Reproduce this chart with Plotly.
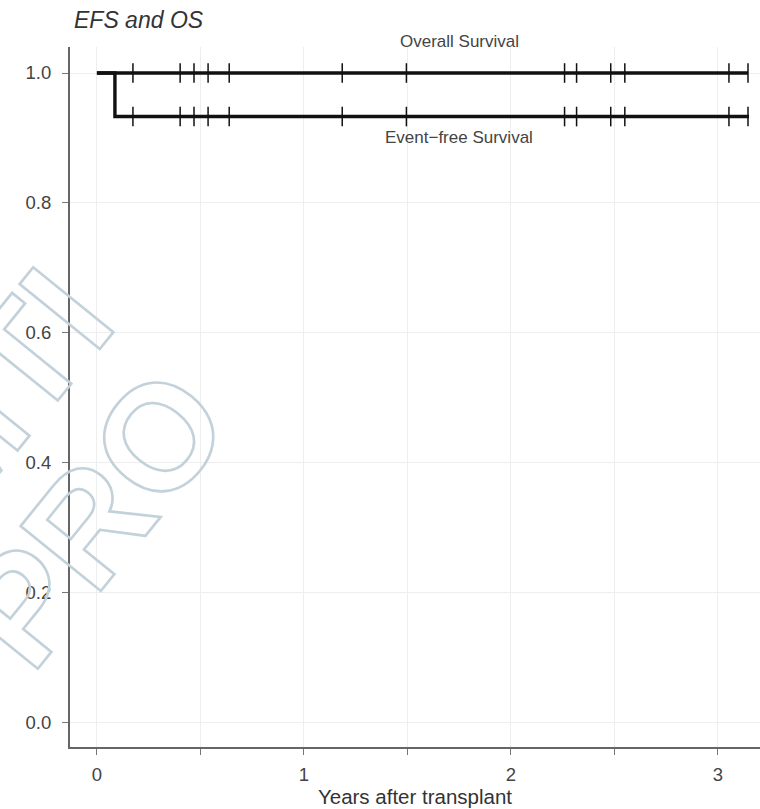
import numpy as np
import plotly.graph_objects as go

# Kaplan-Meier step curves (years after transplant, survival probability)
os_time = [0.0, 3.145]
os_surv = [1.0, 1.0]
efs_time = [0.0, 0.087, 3.150]
efs_surv = [1.0, 0.933, 0.933]

# censored observations (years), shared by both curves
censor_times = [0.174, 0.402, 0.469, 0.537, 0.639, 1.185, 1.495,
                2.259, 2.317, 2.482, 2.550, 3.053, 3.145]

x_ticks = [0, 0.5, 1, 1.5, 2, 2.5, 3]
x_tick_text = ["0", "", "1", "", "2", "", "3"]
y_ticks = [0.0, 0.2, 0.4, 0.6, 0.8, 1.0]
y_tick_text = ["0.0", "0.2", "0.4", "0.6", "0.8", "1.0"]

Y_RANGE = [-0.037, 1.040]


def step_value(times, surv, t):
    idx = np.searchsorted(np.asarray(times), t, side="right") - 1
    return float(np.asarray(surv)[idx])


def to_paper_y(v):
    return (v - Y_RANGE[0]) / (Y_RANGE[1] - Y_RANGE[0])


fig = go.Figure()

for times, surv in ((os_time, os_surv), (efs_time, efs_surv)):
    fig.add_trace(go.Scatter(
        x=times, y=surv, mode="lines", line_shape="hv",
        line=dict(color="#111111", width=3.4), hoverinfo="skip",
        showlegend=False, cliponaxis=False,
    ))
    fig.add_trace(go.Scatter(
        x=censor_times,
        y=[step_value(times, surv, t) for t in censor_times],
        mode="markers",
        marker=dict(symbol="line-ns", size=14,
                    line=dict(color="#111111", width=1.5)),
        hoverinfo="skip", showlegend=False, cliponaxis=False,
    ))

txt = "#444444"
fig.update_layout(
    width=760, height=809,
    margin=dict(l=70, r=0, t=47, b=62),
    paper_bgcolor="white", plot_bgcolor="rgba(0,0,0,0)",
    font=dict(family="Liberation Sans, Arial, sans-serif", color=txt),
    xaxis=dict(
        range=[-0.130, 3.203], tickvals=x_ticks, ticktext=x_tick_text,
        ticks="outside", ticklen=6, tickcolor="#777777", tickwidth=1,
        ticklabelstandoff=4,
        showline=True, linecolor="#666666", linewidth=2,
        showgrid=True, gridcolor="#eeeeee", gridwidth=1,
        zeroline=False, tickfont=dict(size=18.5, color=txt),
        title=dict(text="Years after transplant",
                   font=dict(size=20.5, color="#333333"), standoff=2),
    ),
    yaxis=dict(
        range=Y_RANGE, tickvals=y_ticks, ticktext=y_tick_text,
        ticks="outside", ticklen=6, tickcolor="#777777", tickwidth=1,
        ticklabelstandoff=7,
        showline=True, linecolor="#666666", linewidth=2,
        showgrid=True, gridcolor="#eeeeee", gridwidth=1,
        zeroline=False, tickfont=dict(size=18.5, color=txt),
    ),
)

# curve labels
fig.add_annotation(x=1.75, xref="x", yref="paper", y=to_paper_y(1.049),
                   text="Overall Survival", showarrow=False,
                   font=dict(size=17, color="#444444"),
                   xanchor="center", yanchor="middle")
fig.add_annotation(x=1.75, xref="x", yref="paper", y=to_paper_y(0.900),
                   text="Event\u2212free Survival", showarrow=False,
                   font=dict(size=17, color="#444444"),
                   xanchor="center", yanchor="middle")

# panel title
fig.add_annotation(xref="paper", yref="paper", x=0.003, y=1.039,
                   text="<i>EFS and OS</i>", showarrow=False,
                   font=dict(size=23, color="#333333"),
                   xanchor="left", yanchor="middle")

# faint outlined watermark
hollow = "fill:none;stroke:#c3d1da;stroke-width:2.6px"
for word, px, py in (("MTI", -2, 392), ("PRO", 93, 518)):
    fig.add_annotation(
        xref="paper", yref="paper",
        x=(px - 70) / 690, y=1 - (py - 47) / 700,
        text=f'<span style="{hollow}"><b>{word}</b></span>',
        showarrow=False, textangle=-51,
        font=dict(size=150, family="Liberation Sans, Arial, sans-serif",
                  color="#c3d1da"),
        xanchor="center", yanchor="middle",
    )

fig.write_html("out.html")
